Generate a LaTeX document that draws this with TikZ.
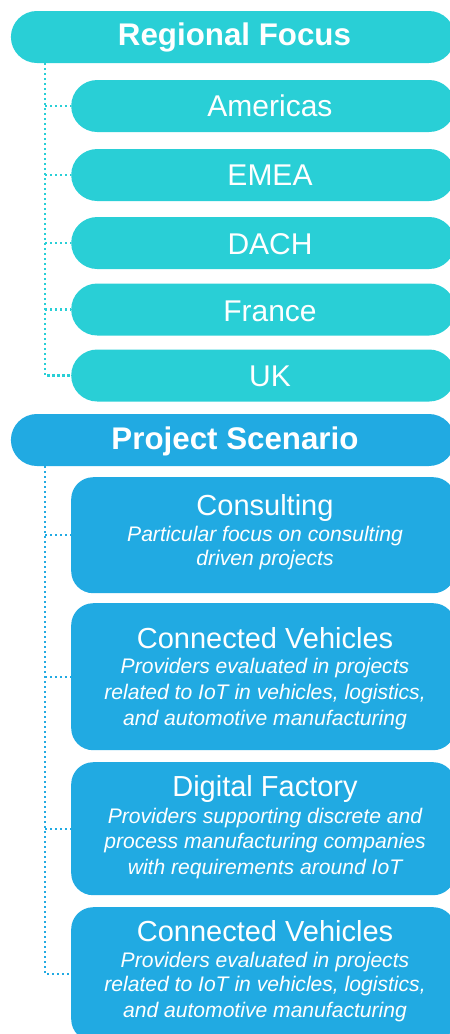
\documentclass[tikz,border=0pt]{standalone}
\usepackage{fontspec}
\setmainfont{Liberation Sans}
\definecolor{regcol}{RGB}{41,207,214}
\definecolor{projcol}{RGB}{33,170,226}
\begin{document}
\begin{tikzpicture}[x=1pt,y=-1pt,
  pill/.style={inner sep=0pt, anchor=west, minimum height=52pt, rounded corners=26pt},
  regbox/.style={pill, fill=regcol},
  projhead/.style={pill, fill=projcol},
  projbox/.style={inner sep=0pt, anchor=north west, fill=projcol, rounded corners=22pt},
  headtext/.style={text=white, anchor=base, inner sep=0pt, font=\fontsize{31.3}{31}\selectfont\bfseries},
  itemtext/.style={text=white, anchor=base, inner sep=0pt, font=\fontsize{30}{30}\selectfont},
  titletext/.style={text=white, anchor=base, inner sep=0pt, font=\fontsize{29}{29}\selectfont},
  desctext/.style={text=white, anchor=base, inner sep=0pt, font=\fontsize{21.1}{21}\selectfont\itshape},
  regdot/.style={draw=regcol, line width=2.2pt, dash pattern=on 2.2pt off 2.8pt},
  projdot/.style={draw=projcol, line width=2.2pt, dash pattern=on 2.2pt off 2.8pt}]
\useasboundingbox (0,0) rectangle (450,1034);
\clip (0,0) rectangle (450,1034);

% Regional focus group
\node[regbox, minimum width=444pt] (rf) at (10.7,37) {};
\node[regbox, minimum width=384pt] (am) at (71,106) {};
\node[regbox, minimum width=384pt] (em) at (71,175) {};
\node[regbox, minimum width=384pt] (da) at (71,243) {};
\node[regbox, minimum width=384pt] (fr) at (71,309.5) {};
\node[regbox, minimum width=384pt] (uk) at (71,375.5) {};

\node[headtext] (rft) at (234.5,45.7) {Regional Focus};
\node[itemtext] (amt) at (270,116.7) {Americas};
\node[itemtext] (emt) at (270,185) {EMEA};
\node[itemtext] (dat) at (270,254.3) {DACH};
\node[itemtext] (frt) at (270,321) {France};
\node[itemtext] (ukt) at (270,386.7) {UK};

\coordinate (rtrunk) at (45,63);
\draw[regdot] (rtrunk) |- (uk.west);
\foreach \n in {am,em,da,fr}
  \draw[regdot] (rtrunk |- \n.west) -- (\n.west);

% Project scenario group
\node[projhead, minimum width=444pt] (ps) at (10.7,440) {};
\node[projbox, minimum width=384pt, minimum height=116pt] (co) at (71,477) {};
\node[projbox, minimum width=384pt, minimum height=147pt] (cv) at (71,603) {};
\node[projbox, minimum width=384pt, minimum height=133pt] (df) at (71,762) {};
\node[projbox, minimum width=384pt, minimum height=134pt] (cw) at (71,907) {};

\node[headtext] (pst) at (235,449.3) {Project Scenario};

\node[titletext] (cot) at (265,515) {Consulting};
\node[desctext] (cod1) at (265,541.7) {Particular focus on consulting};
\node[desctext] (cod2) at (265,565) {driven projects};

\node[titletext] (cvt) at (265,648) {Connected Vehicles};
\node[desctext] (cvd1) at (265,673.3) {Providers evaluated in projects};
\node[desctext] (cvd2) at (265,699) {related to IoT in vehicles, logistics,};
\node[desctext] (cvd3) at (265,725) {and automotive manufacturing};

\node[titletext] (dft) at (265,796.7) {Digital Factory};
\node[desctext] (dfd1) at (265,823.3) {Providers supporting discrete and};
\node[desctext] (dfd2) at (265,848.3) {process manufacturing companies};
\node[desctext] (dfd3) at (265,874) {with requirements around IoT};

\node[titletext] (cwt) at (265,941.7) {Connected Vehicles};
\node[desctext] (cwd1) at (265,967.3) {Providers evaluated in projects};
\node[desctext] (cwd2) at (265,991.7) {related to IoT in vehicles, logistics,};
\node[desctext] (cwd3) at (265,1017.3) {and automotive manufacturing};

\coordinate (ptrunk) at (45,466);
\draw[projdot] (ptrunk) |- (cw.west);
\foreach \n in {co,cv,df}
  \draw[projdot] (ptrunk |- \n.west) -- (\n.west);
\end{tikzpicture}
\end{document}
